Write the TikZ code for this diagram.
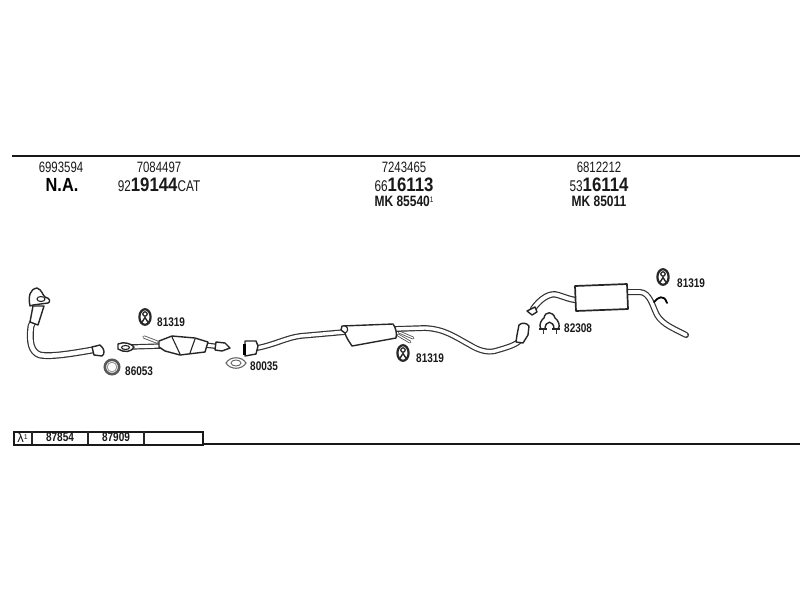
\documentclass[tikz,border=0pt]{standalone}
\usepackage{fontspec}
\setmainfont{Liberation Sans}
\newfontfamily\condf[FakeStretch=0.76]{Liberation Sans}
\newfontfamily\condb[FakeStretch=0.8,BoldFont={Liberation Sans Bold}]{Liberation Sans}
\newfontfamily\bigb[FakeStretch=0.86]{Liberation Sans Bold}
\usetikzlibrary{calc}
\definecolor{ink}{gray}{0.1}
\tikzset{
 x=1pt,y=-1pt,
 rule/.style={draw=black!90,line width=2pt},
 partno/.style={inner sep=0pt,text=ink,font=\fontsize{15}{15}\selectfont\condf},
 big/.style={inner sep=0pt,text=ink,font=\fontsize{15.5}{15.5}\selectfont\condf},
 midb/.style={inner sep=0pt,text=ink,font=\fontsize{15}{15}\selectfont\condb\bfseries},
 ref/.style={inner sep=0pt,text=ink,anchor=west,font=\fontsize{12.5}{12.5}\selectfont\condb\bfseries},
 pipe/.style={draw=black!80,double=white,double distance=2.6pt,line width=1.2pt,line cap=round,line join=round},
 thin pipe/.style={draw=black!70,double=white,double distance=1.2pt,line width=0.8pt,line cap=round},
 body/.style={draw=black!85,fill=white,line width=1.4pt,line join=round},
 part/.style={draw=black!85,line width=1.1pt,fill=white},
 hangerp/.pic={
   \draw[draw=black!85,line width=2.2pt,fill=white] (0,0) ellipse (5.6 and 7.8);
   \draw[draw=black!85,line width=1.3pt,fill=white] (0,-3) circle (2.2);
   \draw[draw=black!85,line width=1.4pt] (-3.5,6) -- (0,0.5) -- (3.5,6);
 },
}
\newcommand{\bigd}[1]{{\bigb\fontsize{19.5}{19.5}\selectfont #1}}
\begin{document}
\begin{tikzpicture}
\useasboundingbox (0,0) rectangle (800,600);
\fill[white] (0,0) rectangle (800,600);
% rules
\coordinate (ruleTopA) at (12,155.5); \coordinate (ruleTopB) at (800,155.5);
\draw[rule] (ruleTopA) -- (ruleTopB);
\coordinate (ruleBotA) at (202,444); \coordinate (ruleBotB) at (800,444);
\draw[rule] (ruleBotA) -- (ruleBotB);
% header text
\node[partno] (t1) at (61,167.5) {6993594};
\node[partno] (t2) at (159,167.5) {7084497};
\node[partno] (t3) at (404,167.5) {7243465};
\node[partno] (t4) at (599,167.5) {6812212};
\node[inner sep=0pt,text=black,font=\bigb\fontsize{19}{19}\selectfont] (na) at (62,185) {N.A.};
\node[big] (n2) at (159,185) {92\bigd{19144}CAT};
\node[big] (n3) at (404,185) {66\bigd{16113}};
\node[big] (n4) at (599,185) {53\bigd{16114}};
\node[midb] (m3) at (404,201) {MK 85540\raisebox{4pt}{\fontsize{8}{8}\selectfont\mdseries 1}};
\node[midb] (m4) at (599,201) {MK 85011};
% table
\node[draw=black!90,line width=1.5pt,minimum width=189pt,minimum height=13pt,inner sep=0pt,anchor=north west] (tbl) at (13,431) {};
\draw[line width=1.1pt,black!85] (32,431) -- (32,444) (88,431) -- (88,444) (144,431) -- (144,444);
\node[inner sep=0pt,text=ink,font=\fontsize{13}{13}\selectfont] (lam) at (22.5,437.5) {λ\raisebox{3pt}{\fontsize{7}{7}\selectfont 1}};
\node[ref,anchor=center] (c1) at (60,437.5) {87854};
\node[ref,anchor=center] (c2) at (116,437.5) {87909};
% front pipe
\draw[pipe,double distance=4.5pt] (95,349.5) .. controls (70,354) and (50,357) .. (40,355) .. controls (31,352) and (29,342) .. (31,326) -- (33,322);
\draw[body] (30,322) -- (33,306) -- (44,306) -- (38,325) -- cycle;
\draw[body] (30,306) .. controls (28,296) and (30,289) .. (37,288) .. controls (42,290) and (42,294) .. (45,297) .. controls (50,298) and (51,302) .. (48,303) -- (33,305) -- cycle;
\draw[part] (41,299) ellipse (4 and 2.5);
\draw[body] (92,347) -- (100,345) .. controls (105,349) and (105,354) .. (102,356) -- (94,355) -- cycle;
% ring 86053
\draw[draw=black!65,line width=2.6pt] (112,367) circle (7.2);
\draw[draw=black!40,line width=0.9pt] (112,367) circle (4.8);
\node[ref] (l86053) at (125,371.5) {86053};
% hanger 1
\pic at (145,317) {hangerp};
\node[ref] (l81319a) at (157,322) {81319};
% catalyst
\draw[thin pipe,double distance=1.6pt] (144,337) -- (157,342);
\draw[pipe,double distance=3pt] (130,347) -- (162,346);
\draw[body] (118,344) .. controls (124,341) and (132,344) .. (134,347) .. controls (132,352) and (124,353) .. (118,349) -- cycle;
\draw[part] (125.5,347.5) ellipse (4 and 2);
\draw[pipe,double distance=3pt] (205,345) -- (222,347);
\draw[body] (159,341) -- (172,336) -- (195,338) -- (208,342) -- (205,352) -- (180,355) -- (165,351) -- (159,347) -- cycle;
\draw[draw=black!85,line width=1.1pt] (172,337) -- (180,354) (195,339) -- (190,353);
\draw[body] (216,342) -- (225,343) -- (230,348) -- (222,351) -- (215,350) -- cycle;
% middle pipe
\draw[pipe,double distance=3.4pt] (250,349) .. controls (270,347) and (285,338) .. (300,336) -- (345,332);
\draw[body] (245,341) -- (256,341) -- (258,346) -- (256,354) -- (245,356) -- cycle;
\draw[draw=black,line width=2.4pt] (244.5,344) -- (244.5,355);
% gasket 80035
\draw[draw=black!60,line width=1.1pt] (226,363) .. controls (230,356) and (242,356) .. (246,363) .. controls (242,370) and (230,370) .. (226,363) -- cycle;
\draw[draw=black!60,line width=0.9pt] (236,363) ellipse (5 and 3);
\node[ref] (l80035) at (250,366) {80035};
% middle muffler
\draw[thin pipe] (399,332) -- (413,338);
\draw[thin pipe] (398,335) -- (410,342);
\draw[pipe,double distance=3.4pt] (395,329) -- (425,328) .. controls (445,329) and (455,337) .. (470,345) .. controls (478,350) and (487,353) .. (495,351) .. controls (505,348) and (517,345) .. (520,340) -- (521,333);
\draw[body] (517,335) -- (519,325) .. controls (522,322) and (527,323) .. (529,326) -- (528,335) -- (523,343) -- (516,342) -- cycle;
\draw[body] (342,326) -- (393,324) .. controls (396,328) and (397,333) .. (396,338) -- (352,346) .. controls (348,340) and (346,337) .. (345,333) -- (341,330) -- cycle;
\draw[draw=black!85,line width=1.1pt] (345,325.5) .. controls (349,328) and (348,332) .. (345,333);
% hanger 2
\pic at (403,353) {hangerp};
\node[ref] (l81319b) at (416,358) {81319};
% rear pipe
\draw[pipe,double distance=4pt] (533,309) .. controls (540,299) and (550,292) .. (558,295) .. controls (565,297) and (570,300) .. (578,300);
\draw[body] (527,311) -- (535,307) -- (537,312) -- (532,315) -- cycle;
\draw[pipe,double distance=3.6pt] (626,292) -- (640,292) .. controls (650,293) and (652,305) .. (657,315) .. controls (663,325) and (675,329) .. (686,335);
\draw[draw=black,line width=1.8pt,line cap=round] (654,302) .. controls (658,297) and (664,294) .. (667,303);
\draw[body,line width=1.7pt] (575,286) -- (627,284) -- (628,309) -- (576,311) -- cycle;
% hanger 3
\pic at (663,277) {hangerp};
\node[ref] (l81319c) at (677,283.5) {81319};
% clamp 82308
\draw[draw=black!85,line width=1.4pt,fill=white] (541,329) .. controls (538,325) and (542,319) .. (544,318) .. controls (545,311) and (553,311) .. (555,318) .. controls (558,320) and (561,326) .. (558,329) -- (554,329) .. controls (554,320) and (545,320) .. (545,329) -- cycle;
\draw[draw=black!85,line width=1.9pt] (539,329) -- (547,329) (552,329) -- (560,329);
\draw[draw=black!80,line width=1pt] (543,329) -- (543,334) (556,329) -- (556,334);
\node[ref] (l82308) at (564,328.5) {82308};
\end{tikzpicture}
\end{document}
